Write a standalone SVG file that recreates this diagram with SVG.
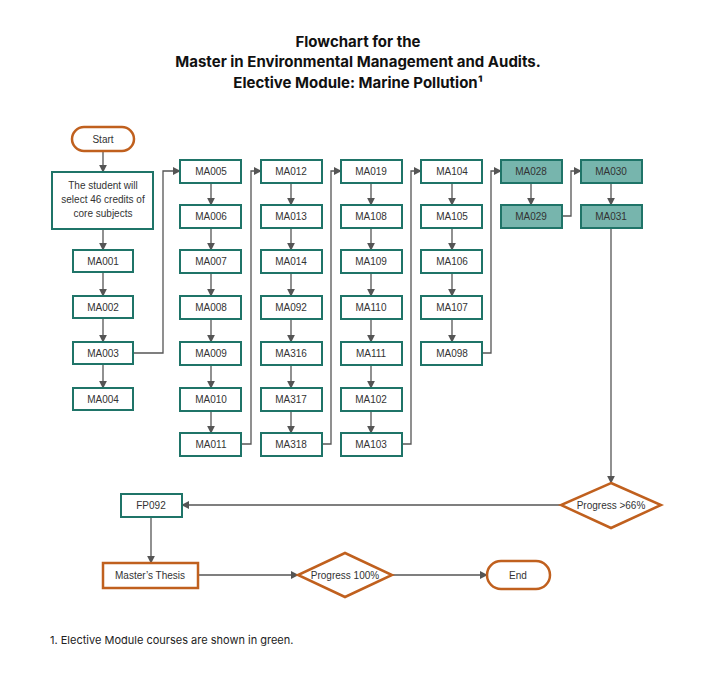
<svg xmlns="http://www.w3.org/2000/svg" width="716" height="677" viewBox="0 0 716 677">
<defs>
<style>
.b{fill:#fff;stroke:#1f7468;stroke-width:2}
.g{fill:#77b5ad;stroke:#1f7468;stroke-width:2}
.o{fill:#fff;stroke:#c0601e;stroke-width:2.5}
text{font-family:"Liberation Sans",Arial,sans-serif;font-size:10px;fill:#333;text-anchor:middle}
.t{font-family:Inter,"Liberation Sans",sans-serif;font-size:15px;font-weight:bold;fill:#111}
.c path{fill:none;stroke:#555;stroke-width:1.3;marker-end:url(#a)}
</style>
<marker id="a" viewBox="0 0 10 10" refX="9" refY="5" markerWidth="8" markerHeight="8" orient="auto" markerUnits="userSpaceOnUse"><path d="M0,0L10,5L0,10z" fill="#555"/></marker>
</defs>
<rect width="716" height="677" fill="#fff"/>
<text class="t" x="358" y="47">Flowchart for the</text>
<text class="t" x="358" y="67">Master in Environmental Management and Audits.</text>
<text class="t" x="358" y="88">Elective Module: Marine Pollution¹</text>
<g class="c">
<path d="M103,151V172"/><path d="M103,229V250"/><path d="M103,272V296"/><path d="M103,318V342"/><path d="M103,364V388"/>
<path d="M133,353H163V171H180"/><path d="M241,444H251V171H261"/><path d="M322,444H331V171H341"/><path d="M402,444H411V171H421"/><path d="M482,353H491V171H501"/><path d="M562,216H571V171H581"/>
<path d="M211,183V205"/><path d="M211,228V250"/><path d="M211,273V296"/><path d="M211,319V342"/><path d="M211,365V388"/><path d="M211,411V433"/>
<path d="M291,183V205"/><path d="M291,228V250"/><path d="M291,273V296"/><path d="M291,319V342"/><path d="M291,365V388"/><path d="M291,411V433"/>
<path d="M371,183V205"/><path d="M371,228V250"/><path d="M371,273V296"/><path d="M371,319V342"/><path d="M371,365V388"/><path d="M371,411V433"/>
<path d="M452,183V205"/><path d="M452,228V250"/><path d="M452,273V296"/><path d="M452,319V342"/>
<path d="M531,183V205"/><path d="M611,183V205"/>
<path d="M611,228V483"/><path d="M561,505H182"/><path d="M151,517V563"/><path d="M198,575H298"/><path d="M392,575H487"/>
</g>
<g id="start"><rect class="o" x="72" y="127" width="62" height="24" rx="12"/><text x="103" y="143">Start</text></g>
<g id="intro"><rect class="b" x="52" y="172" width="101" height="57"/><text x="103" y="189">The student will</text><text x="103" y="203">select 46 credits of</text><text x="103" y="217">core subjects</text></g>
<g id="ma001"><rect class="b" x="73" y="250" width="60" height="22"/><text x="103" y="265">MA001</text></g>
<g id="ma002"><rect class="b" x="73" y="296" width="60" height="22"/><text x="103" y="311">MA002</text></g>
<g id="ma003"><rect class="b" x="73" y="342" width="60" height="22"/><text x="103" y="357">MA003</text></g>
<g id="ma004"><rect class="b" x="73" y="388" width="60" height="22"/><text x="103" y="403">MA004</text></g>
<g id="ma005"><rect class="b" x="180" y="160" width="61" height="23"/><text x="211" y="175">MA005</text></g>
<g id="ma006"><rect class="b" x="180" y="205" width="61" height="23"/><text x="211" y="220">MA006</text></g>
<g id="ma007"><rect class="b" x="180" y="250" width="61" height="23"/><text x="211" y="265">MA007</text></g>
<g id="ma008"><rect class="b" x="180" y="296" width="61" height="23"/><text x="211" y="311">MA008</text></g>
<g id="ma009"><rect class="b" x="180" y="342" width="61" height="23"/><text x="211" y="357">MA009</text></g>
<g id="ma010"><rect class="b" x="180" y="388" width="61" height="23"/><text x="211" y="403">MA010</text></g>
<g id="ma011"><rect class="b" x="180" y="433" width="61" height="23"/><text x="211" y="448">MA011</text></g>
<g id="ma012"><rect class="b" x="261" y="160" width="61" height="23"/><text x="291" y="175">MA012</text></g>
<g id="ma013"><rect class="b" x="261" y="205" width="61" height="23"/><text x="291" y="220">MA013</text></g>
<g id="ma014"><rect class="b" x="261" y="250" width="61" height="23"/><text x="291" y="265">MA014</text></g>
<g id="ma092"><rect class="b" x="261" y="296" width="61" height="23"/><text x="291" y="311">MA092</text></g>
<g id="ma316"><rect class="b" x="261" y="342" width="61" height="23"/><text x="291" y="357">MA316</text></g>
<g id="ma317"><rect class="b" x="261" y="388" width="61" height="23"/><text x="291" y="403">MA317</text></g>
<g id="ma318"><rect class="b" x="261" y="433" width="61" height="23"/><text x="291" y="448">MA318</text></g>
<g id="ma019"><rect class="b" x="341" y="160" width="61" height="23"/><text x="371" y="175">MA019</text></g>
<g id="ma108"><rect class="b" x="341" y="205" width="61" height="23"/><text x="371" y="220">MA108</text></g>
<g id="ma109"><rect class="b" x="341" y="250" width="61" height="23"/><text x="371" y="265">MA109</text></g>
<g id="ma110"><rect class="b" x="341" y="296" width="61" height="23"/><text x="371" y="311">MA110</text></g>
<g id="ma111"><rect class="b" x="341" y="342" width="61" height="23"/><text x="371" y="357">MA111</text></g>
<g id="ma102"><rect class="b" x="341" y="388" width="61" height="23"/><text x="371" y="403">MA102</text></g>
<g id="ma103"><rect class="b" x="341" y="433" width="61" height="23"/><text x="371" y="448">MA103</text></g>
<g id="ma104"><rect class="b" x="421" y="160" width="61" height="23"/><text x="452" y="175">MA104</text></g>
<g id="ma105"><rect class="b" x="421" y="205" width="61" height="23"/><text x="452" y="220">MA105</text></g>
<g id="ma106"><rect class="b" x="421" y="250" width="61" height="23"/><text x="452" y="265">MA106</text></g>
<g id="ma107"><rect class="b" x="421" y="296" width="61" height="23"/><text x="452" y="311">MA107</text></g>
<g id="ma098"><rect class="b" x="421" y="342" width="61" height="23"/><text x="452" y="357">MA098</text></g>
<g id="ma028"><rect class="g" x="501" y="160" width="61" height="23"/><text x="531" y="175">MA028</text></g>
<g id="ma029"><rect class="g" x="501" y="205" width="61" height="23"/><text x="531" y="220">MA029</text></g>
<g id="ma030"><rect class="g" x="581" y="160" width="61" height="23"/><text x="611" y="175">MA030</text></g>
<g id="ma031"><rect class="g" x="581" y="205" width="61" height="23"/><text x="611" y="220">MA031</text></g>
<g id="p66"><path class="o" d="M611,483L661,505L611,528L561,505Z"/><text x="611" y="509">Progress &gt;66%</text></g>
<g id="fp092"><rect class="b" x="121" y="494" width="61" height="23"/><text x="151" y="509">FP092</text></g>
<g id="thesis"><rect class="o" x="103" y="563" width="95" height="25"/><text x="150" y="579">Master’s Thesis</text></g>
<g id="p100"><path class="o" d="M345,553L392,575L345,597L298,575Z"/><text x="345" y="579">Progress 100%</text></g>
<g id="end"><rect class="o" x="487" y="561" width="63" height="28" rx="14"/><text x="518" y="579">End</text></g>
<text x="50" y="644" style="text-anchor:start;font-family:Inter,'Liberation Sans',sans-serif;font-size:11px;fill:#222">1.  Elective Module courses are shown in green.</text>
</svg>
